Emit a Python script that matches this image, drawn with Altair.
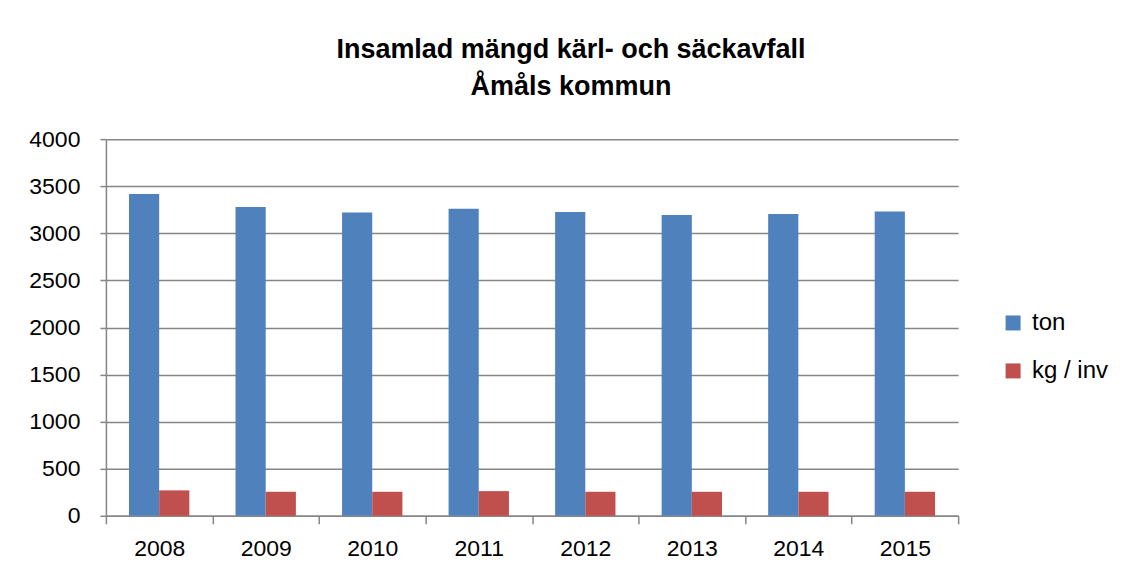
import altair as alt
import pandas as pd

years = ["2008", "2009", "2010", "2011", "2012", "2013", "2014", "2015"]
ton = [3418, 3279, 3221, 3260, 3225, 3193, 3204, 3232]
kg_inv = [270, 255, 255, 262, 255, 255, 255, 255]
series = ["ton", "kg / inv"]
y_ticks = [0, 500, 1000, 1500, 2000, 2500, 3000, 3500, 4000]

rows = []
for i, y in enumerate(years):
    rows.append({"year": y, "serie": series[0], "value": ton[i]})
    rows.append({"year": y, "serie": series[1], "value": kg_inv[i]})
df = pd.DataFrame(rows)

FONT = "Liberation Sans"
GRID = "#868686"

chart = alt.Chart(df).mark_bar().encode(
    x=alt.X("year:N", sort=years, title=None,
            scale=alt.Scale(paddingInner=0, paddingOuter=0),
            axis=alt.Axis(labelAngle=0, tickBand="extent", tickSize=8,
                          tickColor=GRID, tickWidth=1.5, domainColor=GRID,
                          domainWidth=1.5, labelPadding=14, labelFontSize=23,
                          labelFont=FONT, labelColor="#000000", grid=False)),
    xOffset=alt.XOffset("serie:N", sort=series,
                        scale=alt.Scale(paddingInner=0, paddingOuter=0.765)),
    y=alt.Y("value:Q", title=None,
            scale=alt.Scale(domain=[0, 4000], nice=False),
            axis=alt.Axis(values=y_ticks, format="d", tickSize=6, tickColor=GRID,
                          tickWidth=1.5, domainColor=GRID, domainWidth=1.5,
                          gridColor=GRID, gridWidth=1.5, labelPadding=20,
                          labelFontSize=23, labelFont=FONT,
                          labelColor="#000000")),
    color=alt.Color("serie:N", sort=series, title=None,
                    scale=alt.Scale(domain=series, range=["#4F81BD", "#C0504D"]),
                    legend=alt.Legend(orient="none", legendX=896, legendY=172,
                                      symbolType="square", symbolSize=225,
                                      symbolStrokeWidth=0, labelFontSize=24,
                                      labelFont=FONT, labelColor="#000000",
                                      rowPadding=24, labelOffset=7)),
).properties(
    width=853,
    height=377,
    title=alt.TitleParams(
        text=["Insamlad mängd kärl- och säckavfall", "Åmåls kommun"],
        font=FONT, fontSize=27, fontWeight="bold",
        color="#000000", anchor="middle", dx=39, offset=27, lineHeight=37,
    ),
    padding={"left": 20, "top": 28, "right": 5, "bottom": 5},
).configure_view(strokeWidth=0)

chart.save("out.html", embed_options={"renderer": "svg", "actions": False})
